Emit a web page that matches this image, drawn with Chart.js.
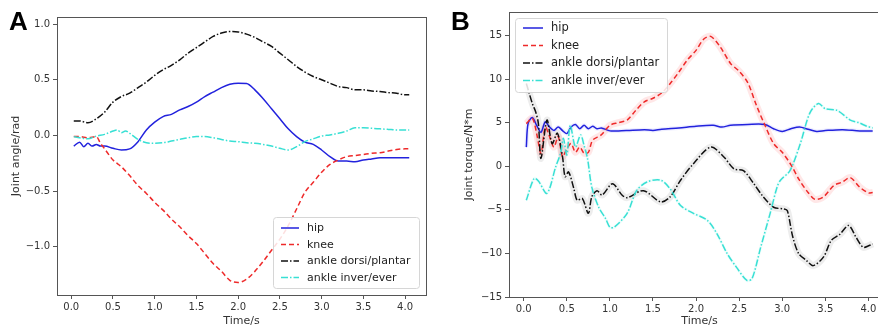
<!DOCTYPE html>
<html>
<head>
<meta charset="utf-8">
<script src="https://cdn.jsdelivr.net/npm/chart.js@4/dist/chart.umd.min.js"></script>
<style>
  html, body { margin: 0; padding: 0; background: #fff; }
  body { width: 878px; height: 329px; overflow: hidden; position: relative; }
  canvas { position: absolute; top: 0; }
  #chartA { left: 0; }
  #chartB { left: 440px; }
  .panel {
    position: absolute; top: 6px;
    font: bold 26px "Liberation Sans", Arial, sans-serif; color: #000;
  }
</style>
</head>
<body>
<canvas id="chartA" width="440" height="329"></canvas>
<canvas id="chartB" width="455" height="329"></canvas>
<div class="panel" style="left:9px">A</div>
<div class="panel" style="left:451px">B</div>
<script>
/* =========================
   DATA
========================= */
const seriesNames = ["hip", "knee", "ankle dorsi/plantar", "ankle inver/ever"];
const xTicks = [0.0, 0.5, 1.0, 1.5, 2.0, 2.5, 3.0, 3.5, 4.0];
const yTicksA = [-1.0, -0.5, 0.0, 0.5, 1.0];
const yTicksB = [-15, -10, -5, 0, 5, 10, 15];

// panel A: joint angle (rad)
const hipAT = [0.03, 0.1, 0.15, 0.2, 0.25, 0.3, 0.35, 0.4, 0.5, 0.6, 0.7, 0.8, 0.9, 1.0, 1.1, 1.2, 1.3, 1.4, 1.5,
  1.6, 1.7, 1.8, 1.9, 2.0, 2.1, 2.2, 2.3, 2.4, 2.5, 2.6, 2.7, 2.8, 2.9, 3.0, 3.1, 3.2, 3.3, 3.4, 3.5, 3.6, 3.7, 3.8, 3.9, 4.0, 4.05];
const hipAV = [-0.095, -0.06, -0.10, -0.07, -0.095, -0.08, -0.095, -0.095, -0.115, -0.13, -0.12, -0.055, 0.05, 0.12, 0.17, 0.19,
  0.23, 0.26, 0.30, 0.35, 0.39, 0.43, 0.46, 0.47, 0.467, 0.41, 0.33, 0.24, 0.15, 0.06, -0.01, -0.06, -0.08, -0.13, -0.19, -0.23,
  -0.23, -0.235, -0.22, -0.21, -0.20, -0.20, -0.20, -0.20, -0.20];

const kneeAT = [0.03, 0.1, 0.2, 0.3, 0.35, 0.4, 0.5, 0.6, 0.7, 0.8, 0.9, 1.0, 1.1, 1.2, 1.3, 1.4, 1.5, 1.6, 1.7, 1.8, 1.9,
  2.0, 2.1, 2.2, 2.3, 2.4, 2.5, 2.6, 2.7, 2.8, 2.9, 3.0, 3.1, 3.2, 3.3, 3.4, 3.5, 3.6, 3.7, 3.8, 3.9, 4.0, 4.05];
const kneeAV = [-0.01, -0.01, -0.02, -0.01, -0.07, -0.12, -0.22, -0.28, -0.36, -0.45, -0.52, -0.60, -0.67, -0.75, -0.82, -0.90,
  -0.97, -1.06, -1.15, -1.22, -1.30, -1.32, -1.29, -1.22, -1.13, -1.03, -0.93, -0.81, -0.66, -0.51, -0.42, -0.33, -0.26, -0.22,
  -0.19, -0.18, -0.17, -0.16, -0.155, -0.14, -0.125, -0.12, -0.12];

const dorsiAT = [0.03, 0.1, 0.2, 0.3, 0.4, 0.5, 0.6, 0.7, 0.8, 0.9, 1.0, 1.1, 1.2, 1.3, 1.4, 1.5, 1.6, 1.7, 1.8, 1.9, 2.0,
  2.1, 2.2, 2.3, 2.4, 2.5, 2.6, 2.7, 2.8, 2.9, 3.0, 3.1, 3.2, 3.3, 3.4, 3.5, 3.6, 3.7, 3.8, 3.9, 4.0, 4.05];
const dorsiAV = [0.13, 0.13, 0.115, 0.15, 0.21, 0.30, 0.35, 0.38, 0.43, 0.48, 0.54, 0.59, 0.63, 0.68, 0.74, 0.79, 0.84, 0.89,
  0.92, 0.934, 0.93, 0.91, 0.88, 0.84, 0.80, 0.74, 0.68, 0.62, 0.57, 0.53, 0.50, 0.47, 0.44, 0.43, 0.41, 0.41, 0.40, 0.395,
  0.385, 0.38, 0.365, 0.365];

const inverAT = [0.03, 0.1, 0.2, 0.3, 0.4, 0.5, 0.55, 0.6, 0.65, 0.7, 0.8, 0.9, 1.0, 1.1, 1.2, 1.3, 1.4, 1.5, 1.6, 1.7, 1.8,
  1.9, 2.0, 2.1, 2.2, 2.3, 2.4, 2.5, 2.6, 2.7, 2.8, 2.9, 3.0, 3.1, 3.2, 3.3, 3.4, 3.5, 3.6, 3.7, 3.8, 3.9, 4.0, 4.05];
const inverAV = [-0.01, -0.02, -0.03, -0.005, 0.01, 0.04, 0.05, 0.025, 0.04, 0.02, -0.035, -0.065, -0.07, -0.065, -0.05,
  -0.035, -0.02, -0.01, -0.01, -0.02, -0.035, -0.05, -0.055, -0.065, -0.07, -0.08, -0.095, -0.115, -0.13, -0.10, -0.055,
  -0.03, -0.005, 0.005, 0.02, 0.04, 0.07, 0.07, 0.065, 0.06, 0.055, 0.05, 0.05, 0.05];

// panel B: joint torque (N*m)
const hipBT = [0.03, 0.05, 0.1, 0.15, 0.2, 0.25, 0.3, 0.35, 0.4, 0.45, 0.5, 0.55, 0.6, 0.65, 0.7, 0.75, 0.8, 0.85, 0.9, 1.0,
  1.1, 1.2, 1.4, 1.5, 1.6, 1.8, 2.0, 2.2, 2.3, 2.4, 2.6, 2.8, 2.9, 3.0, 3.1, 3.2, 3.3, 3.4, 3.5, 3.7, 3.9, 4.05];
const hipBV = [2.2, 4.9, 5.6, 4.7, 3.9, 5.1, 4.5, 4.1, 4.5, 4.1, 3.75, 4.5, 4.8, 4.3, 4.7, 4.3, 4.6, 4.3, 4.4, 4.06, 4.06,
  4.1, 4.2, 4.1, 4.25, 4.4, 4.6, 4.7, 4.5, 4.7, 4.8, 4.8, 4.3, 4.0, 4.3, 4.5, 4.25, 4.0, 4.1, 4.2, 4.06, 4.06];

const kneeBT = [0.03, 0.1, 0.15, 0.2, 0.25, 0.3, 0.35, 0.4, 0.45, 0.5, 0.55, 0.6, 0.65, 0.7, 0.75, 0.8, 0.9, 1.0, 1.1, 1.2,
  1.3, 1.4, 1.5, 1.6, 1.7, 1.8, 1.9, 2.0, 2.09, 2.17, 2.28, 2.4, 2.5, 2.6, 2.7, 2.8, 2.9, 3.0, 3.1, 3.2, 3.3, 3.38, 3.48,
  3.6, 3.7, 3.79, 3.9, 4.0, 4.05];
const kneeBV = [4.9, 5.5, 3.75, 1.5, 4.5, 3.4, 2.2, 3.4, 1.1, 2.0, 2.6, 1.6, 2.2, 1.5, 1.6, 3.0, 3.6, 4.7, 5.0, 5.3, 6.4, 7.4,
  7.8, 8.4, 9.5, 10.8, 12.2, 13.3, 14.6, 14.9, 13.7, 11.8, 10.9, 9.6, 7.0, 4.7, 2.6, 1.6, 0.2, -1.6, -3.0, -3.8, -3.5, -2.2,
  -1.8, -1.3, -2.4, -3.05, -3.0];

const dorsiBT = [0.03, 0.06, 0.1, 0.14, 0.17, 0.2, 0.27, 0.33, 0.39, 0.45, 0.48, 0.52, 0.58, 0.62, 0.68, 0.75, 0.79, 0.85,
  0.91, 1.03, 1.14, 1.2, 1.39, 1.59, 1.7, 1.82, 1.97, 2.17, 2.32, 2.44, 2.55, 2.67, 2.78, 2.9, 3.02, 3.06, 3.12, 3.19, 3.28,
  3.36, 3.48, 3.57, 3.67, 3.77, 3.86, 3.94, 4.01, 4.05];
const dorsiBV = [9.5, 8.5, 7.2, 6.2, 4.9, 0.9, 5.3, 2.6, 3.8, 1.1, -1.2, -0.65, -2.5, -3.9, -3.7, -5.4, -3.5, -2.8, -3.3, -2.0,
  -3.3, -3.6, -2.8, -4.1, -3.5, -1.6, 0.3, 2.2, 1.1, -0.3, -0.5, -2.0, -3.5, -4.7, -4.9, -5.1, -8.0, -10.0, -10.8, -11.4,
  -10.4, -8.5, -7.8, -6.8, -8.2, -9.3, -9.1, -8.9];

const inverBT = [0.03, 0.12, 0.17, 0.27, 0.37, 0.43, 0.46, 0.5, 0.54, 0.6, 0.66, 0.7, 0.74, 0.79, 0.87, 0.95, 1.0, 1.05, 1.2,
  1.31, 1.43, 1.59, 1.7, 1.82, 1.97, 2.13, 2.24, 2.36, 2.47, 2.59, 2.65, 2.75, 2.86, 2.94, 2.98, 3.09, 3.21, 3.32, 3.42, 3.5,
  3.64, 3.79, 3.89, 3.98, 4.05];
const inverBV = [-3.9, -1.4, -1.7, -3.1, -0.1, 1.6, 3.2, 1.3, 4.7, 2.2, 3.6, 2.4, 0.9, -2.4, -4.7, -6.0, -7.0, -7.0, -5.4, -2.8,
  -1.8, -1.6, -2.6, -4.5, -5.4, -6.2, -7.7, -10.0, -11.6, -13.1, -12.9, -9.3, -5.4, -2.4, -1.6, -0.5, 2.6, 6.1, 7.2, 6.6, 6.4,
  5.3, 5.0, 4.6, 4.4];

/* =========================
   STYLES
========================= */
const colors = ["#2222dd", "#ee2a2a", "#111111", "#38e0d4"];
const bandColors = ["rgba(40,40,255,0.08)", "rgba(255,70,70,0.13)", "rgba(0,0,0,0.07)", "rgba(56,224,212,0.08)"];
const dashes = [[], [5, 3], [7, 2, 1.5, 2], [7, 2, 1.5, 2]];
const FONT = "'DejaVu Sans', sans-serif";

function pts(ts, vs) {
  return ts.map((t, i) => ({ x: t, y: vs[i] }));
}

function minusSign(s) {
  return s.replace("-", "\u2212");
}

function lineSet(i, data, tension) {
  return {
    label: seriesNames[i], data: data,
    borderColor: colors[i], borderWidth: 1.5, borderDash: dashes[i],
    pointRadius: 0, tension: tension, order: 4 - i
  };
}

function bandSet(i, data, width, tension) {
  return {
    label: "band", band: true, data: data,
    borderColor: bandColors[i], borderWidth: width,
    pointRadius: 0, tension: tension, order: 10
  };
}

/* =========================
   PLUGINS
========================= */
const frame = {
  id: "frame",
  afterDraw(chart) {
    const a = chart.chartArea, ctx = chart.ctx;
    ctx.save();
    ctx.strokeStyle = "#555";
    ctx.lineWidth = 1;
    ctx.strokeRect(Math.round(a.left) + 0.5, Math.round(a.top) + 0.5,
      Math.round(a.right - a.left), Math.round(a.bottom - a.top));
    ctx.restore();
  }
};

const innerLegend = {
  id: "innerLegend",
  afterDatasetsDraw(chart, args, o) {
    const a = chart.chartArea, ctx = chart.ctx;
    const items = chart.data.datasets.filter(d => !d.band);
    const x = o.corner === "lower right" ? a.right - o.margin - o.width : a.left + o.margin;
    const y = o.corner === "lower right" ? a.bottom - o.margin - o.height : a.top + o.margin;
    ctx.save();
    ctx.beginPath();
    ctx.roundRect(x + 0.5, y + 0.5, o.width, o.height, 3);
    ctx.fillStyle = "rgba(255,255,255,0.85)";
    ctx.fill();
    ctx.strokeStyle = "#d6d6d6";
    ctx.lineWidth = 1;
    ctx.stroke();
    ctx.font = o.fontSize + "px " + FONT;
    ctx.textBaseline = "middle";
    items.forEach((d, i) => {
      const ry = y + o.padTop + i * o.rowH;
      ctx.strokeStyle = d.borderColor;
      ctx.lineWidth = 1.5;
      ctx.setLineDash(d.borderDash);
      ctx.beginPath();
      ctx.moveTo(x + 8, ry);
      ctx.lineTo(x + 8 + o.handle, ry);
      ctx.stroke();
      ctx.setLineDash([]);
      ctx.fillStyle = "#222";
      ctx.fillText(d.label, x + 16 + o.handle, ry + 0.5);
    });
    ctx.restore();
  }
};

/* =========================
   CHART BUILDER
========================= */
function axes(yTicks, yMin, yMax, yTitle, yWidth, xHeight, fmtY, titlePad) {
  const grid = { drawOnChartArea: false, drawTicks: true, tickLength: 4, color: "#555" };
  const border = { display: true, color: "#555" };
  return {
    x: {
      type: "linear", min: -0.171, max: 4.251,
      grid: grid, border: border,
      afterBuildTicks: s => { s.ticks = xTicks.map(v => ({ value: v })); },
      afterFit: s => { s.height = xHeight; },
      ticks: { color: "#333", font: { family: FONT, size: 10 }, padding: 2, maxRotation: 0,
        callback: v => v.toFixed(1) },
      title: { display: true, text: "Time/s", color: "#333", font: { family: FONT, size: 11 },
        padding: { top: 0, bottom: 1 } }
    },
    y: {
      type: "linear", min: yMin, max: yMax,
      grid: grid, border: border,
      afterBuildTicks: s => { s.ticks = yTicks.map(v => ({ value: v })); },
      afterFit: s => { s.width = yWidth; },
      ticks: { color: "#333", font: { family: FONT, size: 10 }, padding: 3, callback: fmtY },
      title: { display: true, text: yTitle, color: "#333", font: { family: FONT, size: 11 },
        padding: { top: titlePad, bottom: 0 } }
    }
  };
}

function makeChart(id, datasets, scales, padding, legend) {
  return new Chart(document.getElementById(id), {
    type: "line",
    data: { datasets: datasets },
    options: {
      responsive: false,
      animation: false,
      layout: { padding: padding },
      scales: scales,
      plugins: { legend: { display: false }, tooltip: { enabled: false }, innerLegend: legend }
    },
    plugins: [frame, innerLegend]
  });
}

/* =========================
   PANEL A
========================= */
const dataA = [pts(hipAT, hipAV), pts(kneeAT, kneeAV), pts(dorsiAT, dorsiAV), pts(inverAT, inverAV)];
makeChart("chartA",
  dataA.map((d, i) => Object.assign(lineSet(i, d, 0.4), { cubicInterpolationMode: "monotone" })),
  axes(yTicksA, -1.432, 1.064, "Joint angle/rad", 57, 34, v => minusSign(v.toFixed(1)), 10),
  { left: 0, top: 17, right: 14, bottom: 0 },
  { corner: "lower right", margin: 7, width: 146, height: 71, padTop: 11, rowH: 16.5, handle: 18, fontSize: 11 });

/* =========================
   PANEL B
========================= */
const dataB = [pts(hipBT, hipBV), pts(kneeBT, kneeBV), pts(dorsiBT, dorsiBV), pts(inverBT, inverBV)];
const bandWidths = [4, 7, 7, 3];
makeChart("chartB",
  dataB.map((d, i) => lineSet(i, d, 0.3)).concat(dataB.map((d, i) => bandSet(i, d, bandWidths[i], 0.3))),
  axes(yTicksB, -15, 17.7, "Joint torque/N*m", 69, 32, v => minusSign(String(v)), 23),
  { left: 0, top: 12, right: 5, bottom: 0 },
  { corner: "upper left", margin: 6, width: 152, height: 74, padTop: 10, rowH: 17.5, handle: 20, fontSize: 11.5 });
</script>
</body>
</html>
